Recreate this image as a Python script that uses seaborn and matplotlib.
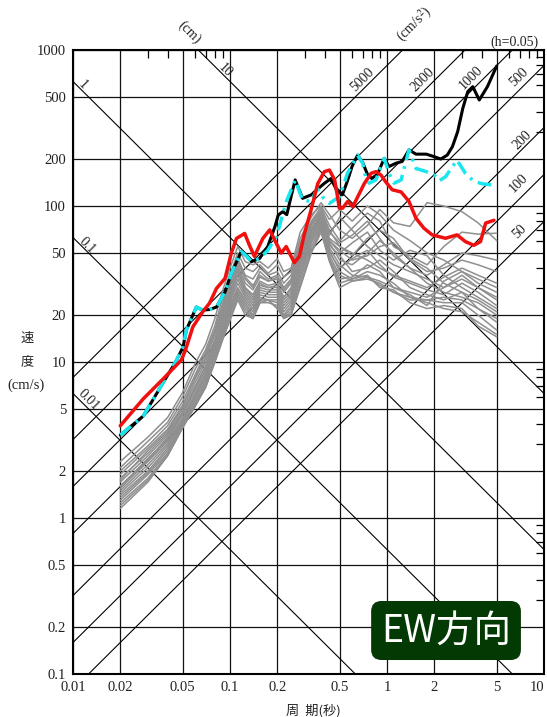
import numpy as np
import pandas as pd
import matplotlib
matplotlib.use('Agg')
import matplotlib.pyplot as plt
from matplotlib.patches import FancyBboxPatch
from matplotlib.ticker import FixedLocator, FixedFormatter, NullFormatter
import seaborn as sns

sns.set_style('white')
plt.rcParams['font.family'] = ['Liberation Serif', 'Noto Sans CJK JP', 'DejaVu Sans']
plt.rcParams['mathtext.fontset'] = 'stix'

# ---- axis / reference line values ----
x_major = [0.01, 0.02, 0.05, 0.1, 0.2, 0.5, 1, 2, 5, 10]
x_labels = ['0.01', '0.02', '0.05', '0.1', '0.2', '0.5', '1', '2', '5', '10']
y_major = [0.1, 0.2, 0.5, 1, 2, 5, 10, 20, 50, 100, 200, 500, 1000]
y_labels = ['0.1', '0.2', '0.5', '1', '2', '5', '10', '20', '50', '100', '200', '500', '1000']
disp_lines = [0.01, 0.1, 1, 10]                      # cm
acc_lines = [50, 100, 200, 500, 1000, 2000, 5000]     # cm/s2

# ---- spectra ----
red_T = [0.02, 0.028, 0.0385, 0.049, 0.052, 0.058, 0.0673, 0.074, 0.082, 0.093,
         0.102, 0.110, 0.124, 0.133, 0.143, 0.162, 0.179, 0.197, 0.212, 0.228,
         0.245, 0.257, 0.277, 0.298, 0.328, 0.362, 0.399, 0.43, 0.464, 0.484,
         0.497, 0.521, 0.562, 0.606, 0.652, 0.716, 0.792, 0.85, 0.915, 0.98,
         1.08, 1.23, 1.38, 1.53, 1.72, 1.94, 2.36, 2.79, 3.16, 3.57, 3.94, 4.25, 4.8]
red_V = [3.9, 5.8, 8.0, 10.3, 11.9, 16.8, 21.1, 23.8, 29.6, 34.4,
         50.0, 62.0, 66.7, 56.0, 47.6, 62.0, 70.3, 57.7, 49.9, 55.0,
         47.6, 43.3, 47.6, 66.7, 94.0, 139.0, 166.0, 170.0, 147.0, 115.0,
         96.8, 96.8, 107.0, 98.9, 115.0, 139.0, 162.0, 166.0, 158.0, 143.0,
         127.0, 123.0, 107.0, 83.4, 72.0, 65.3, 62.1, 65.3, 59.1, 56.0, 59.1, 77.7, 81.0]

cyan_T = [0.02, 0.028, 0.0385, 0.045, 0.0503, 0.0527, 0.061, 0.067, 0.074, 0.082,
          0.093, 0.102, 0.118, 0.127, 0.137, 0.154, 0.174, 0.197, 0.207, 0.228,
          0.26, 0.29, 0.33, 0.36, 0.395, 0.43, 0.5, 0.56, 0.65, 0.70,
          0.73, 0.77, 0.85, 0.96, 1.03, 1.11, 1.23, 1.38, 1.53, 1.78,
          2.0, 2.15, 2.36, 2.79, 3.16, 3.57, 4.03, 4.8]
cyan_V = [3.4, 4.5, 7.7, 10.0, 12.5, 16.0, 22.5, 21.5, 21.7, 22.5,
          28.2, 37.0, 51.0, 48.0, 44.0, 46.0, 52.0, 63.5, 75.0, 106.0,
          147.0, 109.0, 107.0, 130.0, 112.0, 104.0, 115.0, 162.0, 212.0, 188.0,
          154.0, 140.0, 147.0, 202.0, 162.0, 140.0, 147.0, 229.0, 174.0, 166.0,
          158.0, 145.0, 154.0, 197.0, 162.0, 144.0, 139.0, 136.0]

black_T = [0.02, 0.028, 0.0385, 0.045, 0.0503, 0.0527, 0.061, 0.067, 0.074, 0.082,
           0.093, 0.102, 0.118, 0.127, 0.137, 0.154, 0.174, 0.193, 0.203, 0.217,
           0.23, 0.245, 0.26, 0.29, 0.33, 0.36, 0.4, 0.44, 0.48, 0.52,
           0.56, 0.6, 0.65, 0.7, 0.75, 0.8, 0.87, 0.96, 1.03, 1.14,
           1.25, 1.38, 1.53, 1.78, 2.0, 2.2, 2.42, 2.61, 2.82, 3.04,
           3.27, 3.52, 3.87, 4.36, 5.0]
black_V = [3.4, 4.5, 7.7, 10.0, 12.5, 16.0, 22.5, 21.5, 21.7, 22.5,
           28.2, 37.0, 51.0, 48.0, 44.0, 46.0, 55.0, 73.5, 87.6, 92.0,
           88.0, 115.0, 147.0, 112.0, 118.0, 128.0, 140.0, 150.0, 125.0, 118.0,
           145.0, 180.0, 212.0, 190.0, 160.0, 150.0, 160.0, 202.0, 179.0, 188.0,
           193.0, 229.0, 215.0, 215.0, 207.0, 200.0, 212.0, 240.0, 300.0, 423.0,
           541.0, 582.0, 478.0, 582.0, 790.0]

gray_T = [0.02, 0.03, 0.04, 0.05, 0.06, 0.07, 0.08, 0.09, 0.1, 0.112,
          0.125, 0.14, 0.155, 0.175, 0.2, 0.22, 0.245, 0.28, 0.33, 0.38,
          0.43, 0.5, 0.6, 0.75, 0.9, 1.1, 1.4, 1.8, 2.3, 3.0, 3.8, 5.0]
g01 = [2.3, 3.3, 4.4, 6.4, 9.8, 13.0, 19.0, 29.0, 40.0, 55.0, 44.0, 42.0, 44.0, 40.0, 46.0, 38.0,
       40.0, 68.0, 88.0, 100.0, 82.0, 95.0, 80.0, 100.0, 88.0, 70.0, 60.0, 50.0, 45.0, 38.0, 32.0, 28.0]
g02 = [2.1, 3.1, 4.1, 6.0, 9.0, 12.0, 17.0, 26.0, 36.0, 50.0, 40.0, 38.0, 42.0, 37.0, 42.0, 35.0,
       38.0, 62.0, 85.0, 105.0, 88.0, 70.0, 62.0, 75.0, 95.0, 78.0, 74.0, 105.0, 100.0, 92.0, 78.0, 60.0]
g03 = [2.0, 2.9, 3.9, 5.6, 8.3, 11.5, 16.0, 24.0, 34.0, 46.0, 36.0, 34.0, 40.0, 36.0, 38.0, 32.0,
       36.0, 58.0, 80.0, 98.0, 75.0, 60.0, 72.0, 90.0, 80.0, 55.0, 48.0, 42.0, 55.0, 68.0, 66.0, 67.0]
g04 = [1.9, 2.8, 3.7, 5.3, 7.8, 10.5, 15.0, 22.0, 32.0, 44.0, 34.0, 30.0, 38.0, 34.0, 36.0, 30.0,
       34.0, 55.0, 78.0, 95.0, 70.0, 55.0, 48.0, 62.0, 70.0, 62.0, 45.0, 38.0, 40.0, 45.0, 42.0, 38.0]
g05 = [1.8, 2.6, 3.5, 5.0, 7.4, 10.0, 14.0, 21.0, 30.0, 42.0, 32.0, 29.0, 35.0, 33.0, 34.0, 28.0,
       32.0, 52.0, 75.0, 90.0, 65.0, 85.0, 70.0, 55.0, 48.0, 42.0, 38.0, 34.0, 30.0, 34.0, 30.0, 25.0]
g06 = [1.7, 2.5, 3.4, 4.8, 7.0, 9.5, 13.5, 20.0, 28.0, 40.0, 30.0, 27.0, 33.0, 31.0, 32.0, 26.0,
       30.0, 50.0, 72.0, 88.0, 60.0, 50.0, 58.0, 68.0, 52.0, 45.0, 52.0, 48.0, 36.0, 30.0, 26.0, 22.0]
g07 = [1.6, 2.4, 3.2, 4.6, 6.6, 9.0, 13.0, 19.0, 27.0, 38.0, 29.0, 25.0, 31.0, 30.0, 30.0, 25.0,
       28.0, 47.0, 70.0, 86.0, 58.0, 45.0, 42.0, 50.0, 60.0, 50.0, 40.0, 32.0, 28.0, 26.0, 24.0, 20.0]
g08 = [1.55, 2.3, 3.1, 4.4, 6.3, 8.6, 12.5, 18.0, 26.0, 36.0, 28.0, 24.0, 30.0, 29.0, 29.0, 24.0,
       27.0, 45.0, 68.0, 84.0, 62.0, 55.0, 50.0, 45.0, 40.0, 36.0, 33.0, 30.0, 35.0, 40.0, 36.0, 32.0]
g09 = [1.5, 2.2, 3.0, 4.3, 6.1, 8.3, 12.0, 17.0, 25.0, 34.0, 27.0, 23.0, 29.0, 28.0, 28.0, 23.0,
       26.0, 43.0, 66.0, 82.0, 56.0, 48.0, 38.0, 40.0, 45.0, 38.0, 30.0, 27.0, 25.0, 28.0, 22.0, 18.0]
g10 = [1.45, 2.1, 2.9, 4.2, 5.9, 8.0, 11.5, 16.5, 24.0, 32.0, 26.0, 22.0, 28.0, 27.0, 27.0, 22.0,
       25.0, 41.0, 64.0, 80.0, 54.0, 42.0, 36.0, 35.0, 33.0, 30.0, 28.0, 26.0, 30.0, 36.0, 30.0, 26.0]
g11 = [1.4, 2.0, 2.8, 4.1, 5.7, 7.7, 11.0, 16.0, 23.0, 30.0, 25.0, 21.0, 27.0, 26.0, 26.0, 21.0,
       24.0, 39.0, 62.0, 78.0, 52.0, 38.0, 34.0, 38.0, 36.0, 32.0, 26.0, 24.0, 22.0, 21.0, 18.0, 15.0]
g12 = [1.35, 1.95, 2.7, 4.0, 5.5, 7.4, 10.5, 15.5, 22.0, 29.0, 24.0, 20.0, 26.0, 25.0, 25.0, 20.0,
       23.0, 37.0, 60.0, 76.0, 50.0, 40.0, 46.0, 52.0, 42.0, 35.0, 32.0, 29.0, 27.0, 32.0, 28.0, 23.0]
g13 = [1.3, 1.9, 2.6, 3.9, 5.4, 7.2, 10.3, 15.0, 21.0, 28.0, 23.0, 19.5, 25.0, 25.0, 24.0, 19.5,
       22.0, 35.0, 58.0, 74.0, 48.0, 36.0, 33.0, 34.0, 32.0, 28.0, 25.0, 25.0, 24.0, 24.0, 20.0, 16.0]
g14 = [1.25, 1.8, 2.55, 3.85, 5.3, 7.0, 10.0, 14.5, 20.0, 27.0, 22.0, 19.0, 24.0, 24.0, 23.0, 19.0,
       21.0, 33.0, 55.0, 72.0, 46.0, 34.0, 35.0, 42.0, 38.0, 30.0, 27.0, 23.0, 33.0, 38.0, 34.0, 30.0]
g15 = [1.2, 1.75, 2.5, 3.8, 5.2, 6.9, 10.0, 14.0, 19.0, 26.0, 21.0, 19.0, 24.0, 25.0, 22.0, 19.0,
       20.0, 31.0, 52.0, 70.0, 45.0, 32.0, 34.0, 36.0, 30.0, 29.0, 24.0, 22.0, 23.0, 22.0, 17.0, 14.5]
g16 = [1.15, 1.7, 2.5, 3.8, 5.2, 6.9, 10.0, 14.0, 18.5, 25.0, 20.0, 19.0, 24.0, 25.0, 22.0, 20.0,
       20.0, 30.0, 50.0, 68.0, 44.0, 30.0, 33.0, 35.0, 31.0, 28.0, 26.0, 25.0, 26.0, 25.0, 22.0, 19.0]
g17 = [1.75, 2.7, 3.6, 5.2, 8.0, 11.0, 15.5, 23.0, 33.0, 45.0, 35.0, 31.0, 36.0, 33.0, 35.0, 29.0,
       33.0, 54.0, 76.0, 92.0, 68.0, 58.0, 65.0, 80.0, 62.0, 48.0, 40.0, 36.0, 42.0, 50.0, 48.0, 45.0]
g18 = [1.6, 2.35, 3.3, 4.7, 6.8, 9.2, 13.2, 19.5, 28.0, 39.0, 30.0, 26.0, 32.0, 30.0, 31.0, 26.0,
       29.0, 48.0, 70.0, 86.0, 60.0, 52.0, 45.0, 48.0, 55.0, 58.0, 46.0, 40.0, 32.0, 28.0, 25.0, 21.0]
gray_sets = [g01, g02, g03, g04, g05, g06, g07, g08, g09, g10, g11, g12, g13, g14, g15, g16, g17, g18]

# long table for seaborn
gray_df = pd.concat([pd.DataFrame({'T': gray_T, 'V': g, 'run': i}) for i, g in enumerate(gray_sets)])
red_df = pd.DataFrame({'T': red_T, 'V': red_V})
cyan_df = pd.DataFrame({'T': cyan_T, 'V': cyan_V})
black_df = pd.DataFrame({'T': black_T, 'V': black_V})

fig = plt.figure(figsize=(5.47, 7.17), dpi=100)
ax = fig.add_axes([73 / 547, 1 - 674 / 717, (544 - 73) / 547, 624 / 717])
ax.set_xscale('log')
ax.set_yscale('log')

# tripartite reference lines
t_span = np.array([0.01, 10.0])
for d in disp_lines:
    ax.plot(t_span, 2 * np.pi * d / t_span, color='black', lw=0.8, zorder=1)
for a in acc_lines:
    ax.plot(t_span, a * t_span / (2 * np.pi), color='black', lw=0.8, zorder=1)

sns.lineplot(data=gray_df, x='T', y='V', units='run', estimator=None, color='#8f8f8f',
             lw=1.1, sort=False, ax=ax, zorder=2)
sns.lineplot(data=black_df, x='T', y='V', color='black', lw=2.2, sort=False, ax=ax, zorder=3)
sns.lineplot(data=cyan_df, x='T', y='V', color='#19e6ee', lw=2.5, sort=False, ax=ax, zorder=4,
             linestyle=(0, (4, 1.8, 0.8, 1.8)))
sns.lineplot(data=red_df, x='T', y='V', color='#f01010', lw=2.5, sort=False, ax=ax, zorder=5)

ax.set_xlim(0.01, 10)
ax.set_ylim(0.1, 1000)
ax.set_xlabel('')
ax.set_ylabel('')

ax.xaxis.set_major_locator(FixedLocator(x_major))
ax.xaxis.set_major_formatter(FixedFormatter(x_labels))
ax.yaxis.set_major_locator(FixedLocator(y_major))
ax.yaxis.set_major_formatter(FixedFormatter(y_labels))
x_minor = [k * 10.0 ** e for e in (-2, -1, 0) for k in (3, 4, 6, 7, 8, 9)]
y_minor = [k * 10.0 ** e for e in (-1, 0, 1, 2) for k in (3, 4, 6, 7, 8, 9)]
ax.xaxis.set_minor_locator(FixedLocator(x_minor))
ax.yaxis.set_minor_locator(FixedLocator(y_minor))
ax.xaxis.set_minor_formatter(NullFormatter())
ax.yaxis.set_minor_formatter(NullFormatter())
ax.tick_params(which='both', direction='in', top=True, right=True, colors='black')
ax.tick_params(which='major', length=0, labelsize=10.5, pad=5, labelcolor='#222222')
ax.tick_params(which='minor', length=6, width=0.9)
ax.grid(which='major', color='#111111', lw=0.9, zorder=0)
for s in ax.spines.values():
    s.set_linewidth(1.5)
    s.set_color('black')
# last x label sits on the figure edge; keep it inside
ax.get_xticklabels()[-1].set_horizontalalignment('right')

# labels of the diagonal lines
txt = dict(fontsize=10, color='#222222', ha='center', va='center')
ax.text(0.0125, 5.7, '0.01', rotation=-45, **txt)
ax.text(0.0123, 56, '0.1', rotation=-45, **txt)
ax.text(0.0116, 597, '1', rotation=-45, **txt)
ax.text(0.0925, 744, '10', rotation=-45, **txt)
ax.text(0.698, 643, '5000', rotation=45, **txt)
ax.text(1.68, 643, '2000', rotation=45, **txt)
ax.text(3.44, 662, '1000', rotation=45, **txt)
ax.text(6.94, 671, '500', rotation=45, **txt)
ax.text(7.26, 265, '200', rotation=45, **txt)
ax.text(6.94, 141, '100', rotation=45, **txt)
ax.text(6.94, 68, '50', rotation=45, **txt)
ax.text(0.0555, 1304, '(cm)', rotation=-45, **txt)
ax.text(1.49, 1446, r'(cm/s$^2$)', rotation=45, **txt)
ax.text(6.47, 1125, '(h=0.05)', **txt)

# axis titles
cjk = ['Noto Sans CJK JP']
fig.text(27 / 547, 1 - 338 / 717, '速', family=cjk, fontsize=9.5, color='#222222', ha='center', va='center')
fig.text(27 / 547, 1 - 362 / 717, '度', family=cjk, fontsize=9.5, color='#222222', ha='center', va='center')
fig.text(26 / 547, 1 - 385 / 717, '(cm/s)', fontsize=10.5, color='#222222', ha='center', va='center')
fig.text(313 / 547, 1 - 711 / 717, '周  期(秒)', family=cjk, fontsize=9.5, color='#222222',
         ha='center', va='center')

# direction badge
badge = FancyBboxPatch((0.633, 0.0224), 0.318, 0.0946, boxstyle='round,pad=0,rounding_size=0.022',
                       mutation_aspect=471 / 624, transform=ax.transAxes, fc='#033a03', ec='none',
                       zorder=6)
ax.add_patch(badge)
ax.text(0.792, 0.068, 'EW方向', transform=ax.transAxes, family=cjk, fontsize=27, color='white',
        ha='center', va='center', zorder=7)

fig.savefig('out.png', dpi=100)
